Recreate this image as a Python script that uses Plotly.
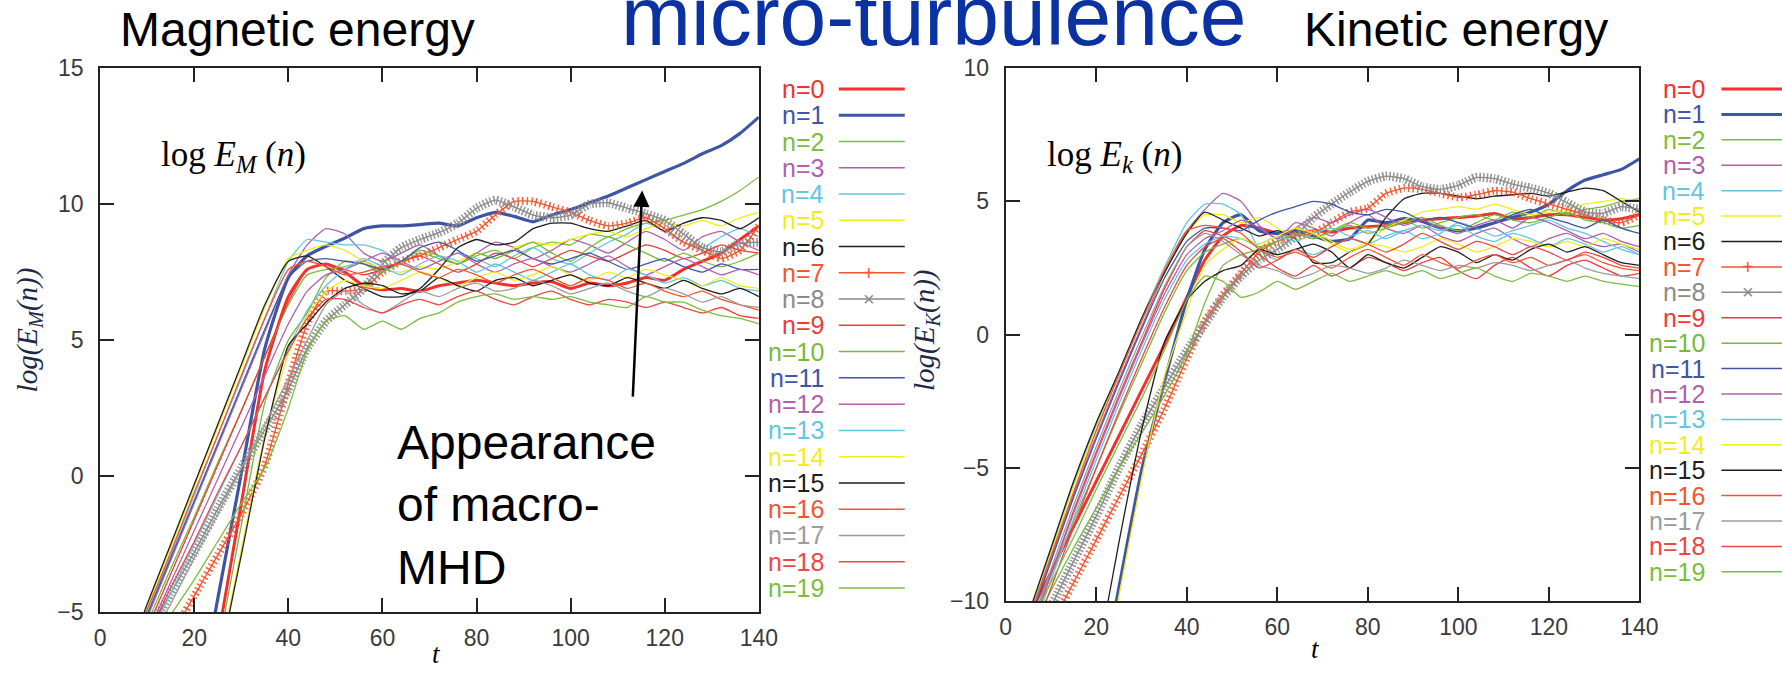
import plotly.graph_objects as go

# page pixels -> figure pixels (scale and offset of the drawn figure on the page)
SX, OX = 0.9865, 5.8
SY, OY = 0.9658, 9.7
FW, FH = 1790, 692

# time grid shared by every series
T = [0, 5, 10, 15, 20, 25, 30, 35, 40,
     44, 48, 52, 56, 60, 64, 68, 72, 76, 80, 84, 88, 92, 96, 100,
     104, 108, 112, 116, 120, 124, 128, 132, 136, 140]

X_TICKS = [0, 20, 40, 60, 80, 100, 120, 140]
YM_TICKS = [-5, 0, 5, 10, 15]
YK_TICKS = [-10, -5, 0, 5, 10]

# ---- magnetic energy log E_M(n) ----
em_0 = [None, None, None, None, -10.9, -6.0, -1.0, 3.9, 6.6,
        7.6, 7.8, 7.5, 7.0, 6.85, 6.9, 6.8, 7.0, 7.1, 7.2, 7.1, 7.0, 7.1, 7.15, 6.9,
        7.1, 7.0, 7.1, 7.3, 7.2, 7.6, 7.9, 8.2, 8.7, 9.2]
em_1 = [None, None, None, None, -9.2, -4.5, 0.1, 4.7, 7.3,
        8.1, 8.45, 8.75, 9.1, 9.2, 9.2, 9.25, 9.3, 9.2, 9.5, 9.7, 9.55, 9.35, 9.6, 9.8,
        10.05, 10.3, 10.6, 10.9, 11.2, 11.5, 11.85, 12.15, 12.6, 13.2]
em_2 = [None, -7.3, -5.4, -3.4, -1.5, 0.5, 2.4, 4.4, 6.3,
        7.4, 7.6, 7.7, 7.9, 7.6, 7.8, 8.2, 8.0, 7.8, 8.1, 8.3, 8.0, 8.4, 8.6, 8.5,
        8.9, 8.8, 9.1, 9.3, 9.4, 9.6, 9.8, 10.1, 10.5, 11.0]
em_3 = [None, -7.3, -5.2, -3.1, -1.0, 1.1, 3.2, 5.3, 7.4,
        8.5, 9.1, 8.9, 8.2, 7.9, 8.2, 8.5, 8.1, 7.8, 8.2, 8.6, 8.4, 8.0, 8.3, 8.7,
        8.5, 8.2, 8.6, 9.0, 8.7, 8.3, 8.8, 9.0, 8.6, 8.3]
em_4 = [None, -7.2, -5.0, -2.9, -0.7, 1.5, 3.6, 5.8, 7.9,
        8.7, 8.6, 8.5, 8.5, 8.3, 7.8, 7.6, 7.9, 8.2, 8.0, 7.7, 8.1, 8.4, 8.0, 7.8,
        8.2, 8.6, 8.9, 9.3, 9.0, 8.6, 8.4, 8.8, 9.1, 8.8]
em_5 = [None, -7.0, -4.8, -2.6, -0.4, 1.8, 4.0, 6.2, 8.0,
        8.3, 8.5, 8.3, 7.9, 7.6, 7.5, 7.7, 7.6, 7.9, 8.2, 8.0, 8.4, 8.6, 8.5, 8.7,
        8.9, 9.0, 8.8, 9.1, 9.3, 9.2, 9.4, 9.2, 9.5, 9.7]
em_6 = [None, -7.1, -4.7, -2.5, -0.3, 1.9, 4.1, 6.3, 7.9,
        8.1, 7.7, 7.2, 6.9, 6.6, 6.6, 6.9, 7.6, 8.4, 8.7, 8.5, 8.6, 9.1, 9.3, 9.3,
        9.1, 9.0, 9.2, 9.4, 9.0, 9.3, 9.5, 9.4, 9.1, 9.5]
em_7 = [None, None, None, -5.9, -4.4, -2.9, -1.4, 0.4, 3.4,
        5.6, 6.8, 6.8, 6.9, 7.5, 7.9, 8.1, 8.4, 8.7, 9.0, 9.6, 10.1, 10.1, 9.9, 9.7,
        9.4, 9.2, 9.3, 9.5, 9.1, 8.6, 8.3, 8.0, 8.3, 9.2]
em_8 = [None, None, -5.8, -4.3, -2.8, -1.2, 0.3, 1.7, 3.2,
        4.7, 5.7, 6.3, 6.9, 7.8, 8.4, 8.7, 8.95, 9.3, 9.85, 10.15, 9.9, 9.6, 9.5, 9.6,
        10.0, 10.05, 9.85, 9.65, 9.4, 8.9, 8.4, 8.25, 8.55, 8.6]
em_9 = [None, None, -5.6, -3.6, -1.6, 0.4, 2.4, 4.4, 6.4,
        7.6, 7.8, 7.6, 7.4, 7.6, 7.9, 8.1, 7.8, 7.5, 7.8, 8.2, 8.0, 7.7, 8.0, 8.3,
        8.1, 7.9, 8.2, 8.5, 8.3, 8.0, 8.2, 8.5, 8.3, 8.2]
em_10 = [None, None, None, None, None, -6.4, -1.8, 2.7, 5.0,
         6.0, 7.3, 7.9, 7.8, 7.5, 7.9, 8.3, 8.1, 7.8, 8.2, 8.0, 8.3, 8.6, 8.2, 7.9,
         8.4, 8.8, 8.5, 8.2, 7.9, 8.2, 7.9, 7.7, 7.9, 8.2]
em_11 = [None, None, -5.1, -3.0, -0.9, 1.2, 3.3, 5.4, 7.3,
         7.9, 8.0, 7.9, 7.8, 7.6, 7.9, 8.4, 8.6, 8.3, 7.9, 8.1, 8.3, 8.0, 7.8, 8.0,
         8.2, 7.9, 7.6, 7.8, 8.0, 7.7, 7.5, 7.8, 7.6, 7.6]
em_12 = [None, None, -5.8, -3.9, -2.0, -0.1, 1.8, 3.7, 5.6,
         6.8, 7.4, 7.6, 7.9, 8.2, 7.9, 7.6, 7.9, 8.2, 7.8, 7.5, 7.8, 8.0, 7.7, 7.5,
         7.8, 8.1, 7.7, 7.4, 7.7, 8.0, 7.7, 7.4, 7.6, 7.4]
em_13 = [None, None, -6.1, -4.3, -2.5, -0.7, 1.1, 2.9, 4.7,
         6.1, 7.0, 7.6, 8.0, 7.7, 7.4, 7.8, 8.1, 7.9, 7.5, 7.8, 7.5, 7.2, 7.5, 7.8,
         7.4, 7.2, 7.6, 7.4, 7.1, 7.3, 7.0, 7.2, 6.9, 6.8]
em_14 = [None, None, None, None, None, -7.0, -2.7, 1.5, 4.5,
         5.9, 6.8, 7.2, 7.0, 6.9, 7.2, 7.5, 7.3, 7.0, 7.3, 7.5, 7.2, 7.4, 7.7, 7.4,
         7.2, 7.5, 7.3, 7.6, 7.4, 7.2, 7.0, 7.3, 7.0, 6.9]
em_15 = [None, None, None, None, None, -7.1, -2.9, 1.4, 4.8,
         5.6, 6.4, 6.9, 7.1, 7.0, 6.7, 6.8, 7.3, 7.0, 6.8, 7.2, 7.3, 7.0, 7.2, 7.4,
         7.1, 7.0, 7.3, 7.1, 6.9, 7.2, 6.9, 6.7, 6.9, 6.6]
em_16 = [None, -7.0, -4.9, -2.8, -0.6, 1.5, 3.7, 5.8, 7.6,
         7.9, 7.7, 7.4, 7.5, 7.7, 7.8, 7.5, 7.3, 7.6, 7.4, 7.1, 7.4, 7.6, 7.3, 7.0,
         7.3, 7.2, 6.9, 7.1, 6.8, 6.6, 6.8, 6.5, 6.3, 6.1]
em_17 = [None, None, -6.3, -4.7, -3.0, -1.4, 0.3, 1.9, 3.6,
         5.0, 6.3, 6.8, 6.3, 6.0, 6.4, 6.8, 6.6, 6.9, 7.1, 6.8, 6.9, 7.2, 7.0, 6.7,
         6.9, 7.1, 6.8, 6.6, 6.9, 6.7, 6.4, 6.6, 6.3, 6.2]
em_18 = [None, None, -5.9, -4.1, -2.4, -0.6, 1.1, 2.9, 4.6,
         5.8, 6.5, 6.5, 6.2, 6.0, 6.3, 6.5, 6.3, 6.6, 6.8, 6.5, 6.3, 6.6, 6.8, 6.5,
         6.3, 6.5, 6.4, 6.2, 6.4, 6.2, 6.0, 6.2, 5.9, 5.8]
em_19 = [None, None, None, -5.1, -3.8, -2.4, -1.0, 0.3, 2.5,
         4.6, 5.7, 5.9, 5.4, 5.7, 5.4, 5.8, 6.0, 6.4, 6.6, 6.7, 6.5, 6.6, 6.5, 6.6,
         6.4, 6.3, 6.2, 6.6, 6.4, 6.4, 6.1, 5.9, 5.8, 5.6]

# ---- kinetic energy log E_K(n) ----
ek_0 = [None, -10.6, -8.9, -7.2, -5.5, -3.8, -2.1, -0.4, 1.4,
        2.8, 3.7, 4.1, 4.0, 3.8, 3.8, 3.9, 3.85, 4.0, 4.05, 4.1, 4.2, 4.3, 4.35, 4.4,
        4.45, 4.55, 4.35, 4.4, 4.5, 4.5, 4.4, 4.3, 4.35, 4.5]
ek_1 = [None, None, None, None, -14.0, -9.5, -5.1, -1.8, 1.3,
        3.2, 4.2, 4.5, 3.9, 3.8, 3.9, 3.7, 3.5, 3.6, 4.3, 4.2, 4.35, 4.25, 4.0, 3.9,
        4.0, 4.2, 4.4, 4.6, 4.9, 5.4, 5.8, 6.0, 6.2, 6.6]
ek_2 = [None, -11.0, -9.0, -7.0, -5.0, -3.0, -1.1, 0.8, 2.4,
        3.1, 3.4, 3.6, 3.3, 3.5, 3.8, 3.6, 3.9, 4.2, 4.0, 4.1, 4.3, 4.0, 4.2, 4.4,
        4.5, 4.3, 4.6, 4.4, 4.7, 4.5, 4.7, 4.8, 5.0, 5.1]
ek_3 = [None, -10.8, -8.4, -6.0, -3.8, -1.7, 0.3, 2.3, 3.9,
        4.7, 5.3, 5.0, 4.1, 3.6, 4.2, 4.0, 3.7, 4.2, 4.5, 4.0, 3.8, 4.1, 3.7, 3.5,
        3.8, 4.0, 3.6, 3.3, 3.6, 3.8, 3.5, 3.3, 3.4, 3.1]
ek_4 = [None, -10.6, -8.1, -5.6, -3.4, -1.4, 0.6, 2.5, 4.2,
        4.9, 4.9, 4.5, 3.2, 2.8, 3.2, 3.0, 3.3, 3.6, 3.4, 3.7, 3.9, 3.6, 3.8, 4.2,
        4.0, 3.7, 3.9, 4.1, 4.3, 4.0, 3.8, 3.5, 3.2, 3.0]
ek_5 = [None, -10.7, -8.2, -5.7, -3.5, -1.5, 0.5, 2.3, 3.8,
        4.5, 4.5, 4.2, 4.4, 4.0, 3.6, 3.9, 3.5, 3.2, 3.5, 4.0, 4.3, 4.6, 4.7, 4.8,
        4.7, 4.9, 4.7, 4.5, 4.6, 4.7, 4.9, 5.0, 5.1, 5.0]
ek_6 = [None, -10.5, -8.0, -5.5, -3.3, -1.4, 0.6, 2.3, 3.8,
        4.6, 4.3, 4.0, 3.7, 3.9, 3.6, 2.7, 2.7, 3.1, 3.4, 4.4, 5.1, 5.3, 5.3, 5.2,
        5.1, 5.2, 5.25, 5.3, 5.2, 5.35, 5.5, 5.4, 5.0, 4.6]
ek_7 = [None, None, -10.9, -9.3, -7.7, -6.1, -4.5, -2.8, -0.9,
        0.5, 1.5, 2.3, 3.1, 3.5, 3.7, 3.8, 4.2, 4.6, 4.75, 5.3, 5.5, 5.45, 5.3, 5.15,
        5.25, 5.4, 5.35, 5.1, 4.9, 4.7, 4.5, 4.3, 4.2, 4.5]
ek_8 = [None, None, -10.2, -8.5, -6.8, -5.0, -3.4, -2.0, -0.6,
        0.4, 1.4, 2.2, 2.8, 3.2, 3.7, 4.4, 4.9, 5.35, 5.75, 5.95, 5.85, 5.55, 5.45, 5.6,
        5.9, 5.85, 5.65, 5.5, 5.3, 4.95, 4.6, 4.55, 4.8, 4.7]
ek_9 = [None, -11.4, -9.0, -6.6, -4.4, -2.3, -0.3, 1.7, 3.3,
        3.9, 3.7, 3.4, 3.0, 2.5, 2.2, 2.6, 2.2, 2.5, 2.9, 2.7, 2.4, 2.7, 2.9, 2.4,
        2.1, 2.6, 2.9, 2.5, 2.2, 2.6, 2.8, 2.5, 2.2, 2.3]
ek_10 = [None, -11.2, -9.6, -8.0, -6.5, -5.0, -3.7, -2.3, -0.7,
         1.2, 2.6, 3.0, 3.2, 3.5, 3.8, 3.6, 3.9, 4.1, 3.8, 4.0, 4.2, 4.4, 4.1, 3.9,
         4.2, 4.5, 4.3, 4.2, 4.4, 4.6, 4.3, 4.2, 4.0, 4.1]
ek_11 = [None, -10.9, -8.5, -6.1, -3.9, -1.8, 0.2, 2.1, 3.5,
         4.0, 4.0, 3.9, 4.3, 4.6, 4.8, 5.0, 4.9, 4.6, 4.5, 4.7, 4.6, 4.3, 4.4, 4.2,
         4.0, 4.2, 4.5, 4.7, 4.4, 4.2, 4.0, 4.3, 4.0, 3.8]
ek_12 = [None, -11.3, -9.0, -6.7, -4.5, -2.4, -0.4, 1.5, 3.0,
         3.6, 3.9, 4.3, 4.0, 3.6, 4.0, 4.4, 4.2, 4.5, 4.7, 4.4, 4.1, 4.3, 4.0, 3.8,
         4.1, 4.3, 4.0, 4.4, 4.2, 3.9, 3.6, 3.8, 3.5, 3.3]
ek_13 = [None, -11.5, -9.2, -6.9, -4.7, -2.6, -0.6, 1.3, 2.8,
         3.4, 3.7, 3.6, 3.4, 3.7, 3.5, 3.8, 4.0, 3.7, 3.9, 3.6, 3.9, 4.1, 3.9, 4.1,
         3.7, 3.5, 3.8, 3.6, 3.3, 3.6, 3.4, 3.1, 3.3, 3.0]
ek_14 = [None, None, None, None, -14.3, -9.8, -5.4, -1.6, 0.9,
         2.6, 3.2, 3.6, 3.4, 3.7, 4.0, 3.8, 3.4, 3.1, 3.4, 3.3, 3.1, 3.3, 3.6, 3.4,
         3.1, 3.3, 3.6, 3.5, 3.3, 3.5, 3.3, 3.6, 3.4, 3.2]
ek_15 = [None, None, None, None, -12.4, -7.8, -3.6, -0.3, 1.3,
         2.0, 2.4, 2.6, 3.2, 3.0, 3.2, 3.4, 3.1, 2.5, 3.0, 2.7, 2.5, 2.9, 3.3, 3.1,
         2.7, 3.0, 2.8, 3.2, 3.4, 3.1, 3.3, 3.0, 2.7, 2.6]
ek_16 = [None, -10.7, -8.3, -5.9, -3.6, -1.5, 0.5, 2.4, 3.9,
         4.1, 4.0, 3.8, 3.2, 2.9, 3.1, 2.8, 2.5, 2.9, 3.2, 2.9, 2.6, 3.0, 2.7, 2.5,
         2.8, 3.0, 2.7, 2.9, 2.6, 2.8, 3.0, 2.7, 2.5, 2.4]
ek_17 = [None, -11.2, -8.8, -6.4, -4.2, -2.1, -0.1, 1.8, 3.3,
         3.8, 3.5, 3.0, 2.6, 2.4, 2.1, 2.3, 2.6, 2.5, 2.3, 2.5, 2.8, 2.6, 2.4, 2.6,
         2.5, 2.7, 2.6, 2.4, 2.6, 2.8, 2.5, 2.3, 2.2, 2.1]
ek_18 = [None, -11.8, -9.5, -7.2, -5.0, -2.9, -0.9, 1.0, 2.6,
         3.3, 3.6, 3.1, 2.5, 2.8, 3.2, 2.9, 3.3, 3.6, 3.4, 3.1, 3.4, 3.8, 3.5, 3.2,
         3.5, 3.3, 3.0, 3.3, 3.1, 2.8, 3.1, 2.9, 2.6, 2.5]
ek_19 = [None, -11.0, -9.3, -7.6, -5.8, -4.1, -2.4, -0.6, 1.3,
         2.2, 2.0, 1.4, 1.6, 2.0, 1.7, 2.0, 2.3, 2.0, 2.2, 2.4, 2.2, 2.4, 2.1, 2.3,
         2.5, 2.2, 2.0, 2.3, 2.2, 2.0, 2.2, 2.0, 1.9, 1.8]

MAG = [em_0, em_1, em_2, em_3, em_4, em_5, em_6, em_7, em_8, em_9,
       em_10, em_11, em_12, em_13, em_14, em_15, em_16, em_17, em_18, em_19]
KIN = [ek_0, ek_1, ek_2, ek_3, ek_4, ek_5, ek_6, ek_7, ek_8, ek_9,
       ek_10, ek_11, ek_12, ek_13, ek_14, ek_15, ek_16, ek_17, ek_18, ek_19]

LABELS = [f"n={i}" for i in range(20)]
COLORS = ["#f2302e", "#3f56a6", "#7cbd3b", "#b25fae", "#63c6de", "#f3ec1c",
          "#1e1e1e", "#f2552f", "#8a8a8a", "#f03a3a", "#78b83a", "#3e56a4",
          "#b25fae", "#63c6de", "#f3ec1c", "#1e1e1e", "#f4552e", "#9c9c9c",
          "#f04545", "#7cbd3b"]
WIDTHS = [3.0, 3.2] + [1.3] * 18
HATCH = {7: ("#f2552f", 8, "1.5px,3px"), 8: ("#8a8a8a", 9, "1.5px,2px")}

SANS = "Liberation Sans, Arial, sans-serif"
SERIF = "Liberation Serif, Times New Roman, serif"


def fx(x):
    """page column -> paper fraction"""
    return ((x - OX) / SX) / FW


def fy(y):
    """page row -> paper fraction"""
    return 1 - ((y - OY) / SY) / FH


fig = go.Figure()


def add_panel(series, xa, ya):
    for i, ys in enumerate(series):
        fig.add_trace(go.Scatter(
            x=T, y=ys, mode="lines", xaxis=xa, yaxis=ya,
            line=dict(color=COLORS[i], width=WIDTHS[i], shape="spline", smoothing=0.5),
            showlegend=False, hoverinfo="skip"))
        if i in HATCH:
            col, w, dash = HATCH[i]
            fig.add_trace(go.Scatter(
                x=T, y=ys, mode="lines", xaxis=xa, yaxis=ya, opacity=0.9,
                line=dict(color=col, width=w, dash=dash, shape="spline", smoothing=0.5),
                showlegend=False, hoverinfo="skip"))


add_panel(MAG, "x", "y")
add_panel(KIN, "x2", "y2")

axis_common = dict(showline=True, linecolor="#222", linewidth=2, mirror="allticks",
                   ticks="inside", ticklen=14, tickwidth=2, tickcolor="#222",
                   showgrid=False, zeroline=False,
                   tickfont=dict(family=SANS, size=23, color="#3a3a3a"))

fig.update_layout(
    width=FW, height=FH, margin=dict(l=0, r=0, t=0, b=0),
    paper_bgcolor="white", plot_bgcolor="white",
    xaxis=dict(domain=[fx(100), fx(759)], range=[0, 140], tickvals=X_TICKS,
               anchor="y", ticklabelstandoff=4, **axis_common),
    yaxis=dict(domain=[fy(611), fy(65)], range=[-5, 15], tickvals=YM_TICKS,
               anchor="x", ticklabelstandoff=10, **axis_common),
    xaxis2=dict(domain=[fx(1006), fx(1640)], range=[0, 140], tickvals=X_TICKS,
                anchor="y2", ticklabelstandoff=4, **axis_common),
    yaxis2=dict(domain=[fy(600), fy(65)], range=[-10, 10], tickvals=YK_TICKS,
                anchor="x2", ticklabelstandoff=10, **axis_common),
)

ann = []
shapes = []

# headline, partly cut by the top edge
ann.append(dict(text="micro-turbulence", x=fx(934), y=fy(62), xref="paper", yref="paper",
                xanchor="center", yanchor="bottom", showarrow=False,
                font=dict(family=SANS, size=84, color="#0a32a3")))
ann.append(dict(text="Magnetic energy", x=fx(297), y=fy(55), xref="paper", yref="paper",
                xanchor="center", yanchor="bottom", showarrow=False,
                font=dict(family=SANS, size=48, color="black")))
ann.append(dict(text="Kinetic energy", x=fx(1456), y=fy(55), xref="paper", yref="paper",
                xanchor="center", yanchor="bottom", showarrow=False,
                font=dict(family=SANS, size=48, color="black")))

# formula labels inside the frames
ann.append(dict(text="log <i>E</i><sub><i>M</i></sub> (<i>n</i>)", x=fx(159), y=fy(154),
                xref="paper", yref="paper", xanchor="left", yanchor="middle",
                showarrow=False, font=dict(family=SERIF, size=35, color="black")))
ann.append(dict(text="log <i>E</i><sub><i>k</i></sub> (<i>n</i>)", x=fx(1045), y=fy(154),
                xref="paper", yref="paper", xanchor="left", yanchor="middle",
                showarrow=False, font=dict(family=SERIF, size=35, color="black")))

# axis titles
ann.append(dict(text="<i>log(E<sub>M</sub>(n))</i>", x=fx(29), y=fy(328), xref="paper",
                yref="paper", textangle=-90, showarrow=False, xanchor="center",
                yanchor="middle", font=dict(family=SERIF, size=29, color="#1c2a48")))
ann.append(dict(text="<i>log(E<sub>K</sub>(n))</i>", x=fx(926), y=fy(328), xref="paper",
                yref="paper", textangle=-90, showarrow=False, xanchor="center",
                yanchor="middle", font=dict(family=SERIF, size=29, color="#1c2a48")))
ann.append(dict(text="<i>t</i>", x=fx(430), y=fy(670), xref="paper", yref="paper",
                showarrow=False, font=dict(family=SERIF, size=27, color="black")))
ann.append(dict(text="<i>t</i>", x=fx(1322), y=fy(665), xref="paper", yref="paper",
                showarrow=False, font=dict(family=SERIF, size=27, color="black")))

# annotation with arrow on the magnetic panel
ann.append(dict(text="Appearance<br>of macro-<br>MHD", x=fx(395), y=fy(503), xref="paper",
                yref="paper", xanchor="left", yanchor="middle", align="left",
                showarrow=False, font=dict(family=SANS, size=48, color="black")))
ann.append(dict(text="", x=115.2, y=10.5, xref="x", yref="y", ax=113.2, ay=2.87,
                axref="x", ayref="y", showarrow=True, arrowhead=2, arrowsize=1.3,
                arrowwidth=2.5, arrowcolor="black"))


# key entries next to each frame
def add_key(text_right, line_x0, line_x1, y0, step):
    for i in range(20):
        yy = y0 + i * step
        ann.append(dict(text=LABELS[i], x=fx(text_right), y=fy(yy), xref="paper",
                        yref="paper", xanchor="right", yanchor="middle", showarrow=False,
                        font=dict(family=SANS, size=25, color=COLORS[i])))
        shapes.append(dict(type="line", xref="paper", yref="paper",
                           x0=fx(line_x0), x1=fx(line_x1), y0=fy(yy), y1=fy(yy),
                           line=dict(color=COLORS[i], width=3 if i < 2 else 1.5)))
        if i in (7, 8):
            ann.append(dict(text="+" if i == 7 else "×",
                            x=fx((line_x0 + min(line_x1, 1782)) / 2 - 3), y=fy(yy),
                            xref="paper", yref="paper", showarrow=False,
                            xanchor="center", yanchor="middle",
                            font=dict(family=SANS, size=20, color=COLORS[i])))


add_key(826, 839, 905, 86.0, 26.35)
add_key(1708, 1722, 1800, 86.0, 25.5)

fig.update_layout(annotations=ann, shapes=shapes)

fig.write_html("out.html")
